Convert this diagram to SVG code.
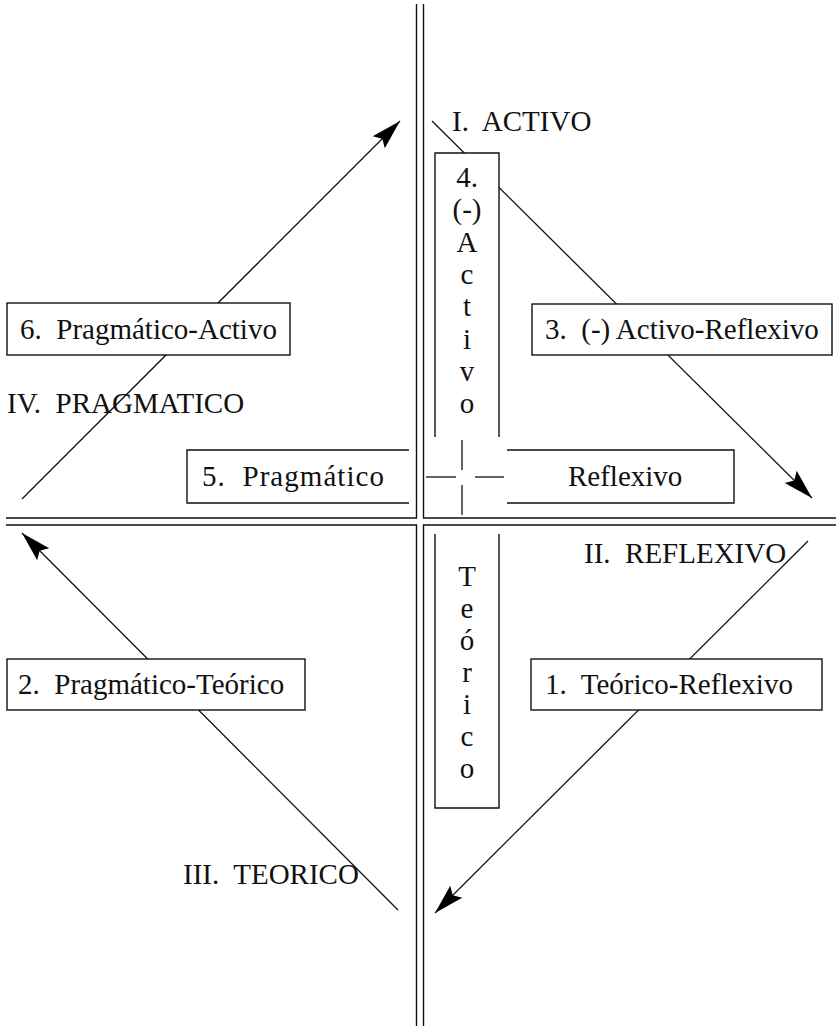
<svg xmlns="http://www.w3.org/2000/svg" width="836" height="1026" viewBox="0 0 836 1026">
<style>
  text { font-family: "Liberation Serif", "Times New Roman", serif; font-size: 29px; fill: #111; }
  .ax { fill: none; stroke: #111; stroke-width: 1.4; }
  .bx { fill: none; stroke: #111; stroke-width: 1.4; }
  .bg { fill: #fff; stroke: none; }
  .cn { fill: none; stroke: #111; stroke-width: 1.3; }
  .vt { text-anchor: middle; }
</style>
<defs>
  <marker id="ah" markerUnits="userSpaceOnUse" markerWidth="34" markerHeight="22" viewBox="-2 -11 34 22" refX="30" refY="0" orient="auto">
    <path d="M0,-8.5 L30,0 L0,8.5 L5,0 Z" fill="#000"/>
  </marker>
</defs>
<rect width="836" height="1026" fill="#fff"/>

<g id="axes">
  <polyline class="ax" points="416.5,4 416.5,518 6,518"/>
  <polyline class="ax" points="423.5,4 423.5,518 836,518"/>
  <polyline class="ax" points="6,525 416.5,525 416.5,1026"/>
  <polyline class="ax" points="836,525 423.5,525 423.5,1026"/>
</g>

<g id="connectors">
  <line class="cn" x1="22" y1="499" x2="400" y2="121" marker-end="url(#ah)"/>
  <line class="cn" x1="432" y1="121" x2="812" y2="498" marker-end="url(#ah)"/>
  <line class="cn" x1="808" y1="541" x2="435" y2="913" marker-end="url(#ah)"/>
  <line class="cn" x1="398" y1="910" x2="22" y2="533" marker-end="url(#ah)"/>
  <g id="center-cross">
    <line class="cn" x1="462" y1="440" x2="462" y2="470"/>
    <line class="cn" x1="462" y1="485" x2="462" y2="515"/>
    <line class="cn" x1="426" y1="477" x2="456" y2="477"/>
    <line class="cn" x1="475" y1="477" x2="504" y2="477"/>
  </g>
</g>

<g id="label-activo"><text x="452" y="131" xml:space="preserve">I.  ACTIVO</text></g>
<g id="label-pragmatico"><text x="7" y="413" xml:space="preserve">IV.  PRAGMATICO</text></g>
<g id="label-reflexivo"><text x="584" y="563" xml:space="preserve">II.  REFLEXIVO</text></g>
<g id="label-teorico"><text x="183" y="884" xml:space="preserve">III.  TEORICO</text></g>

<g id="node-6">
  <rect class="bg" x="7" y="303" width="283" height="52"/>
  <rect class="bx" x="7" y="303" width="283" height="52"/>
  <text x="20" y="339" xml:space="preserve">6.  Pragmático-Activo</text>
</g>

<g id="node-3">
  <rect class="bg" x="532" y="304" width="300" height="51"/>
  <rect class="bx" x="532" y="304" width="300" height="51"/>
  <text x="545" y="339" xml:space="preserve">3.  (-) Activo-Reflexivo</text>
</g>

<g id="node-4">
  <rect class="bg" x="435" y="153" width="64" height="284"/>
  <path class="bx" d="M435,437 L435,153 L499,153 L499,437"/>
  <text class="vt" x="467" y="187">4.</text>
  <text class="vt" x="467" y="219">(-)</text>
  <text class="vt" x="467" y="252">A</text>
  <text class="vt" x="467" y="284">c</text>
  <text class="vt" x="467" y="316">t</text>
  <text class="vt" x="467" y="349">i</text>
  <text class="vt" x="467" y="381">v</text>
  <text class="vt" x="467" y="413">o</text>
</g>

<g id="node-5">
  <rect class="bg" x="187" y="450" width="222" height="53"/>
  <path class="bx" d="M409,450 L187,450 L187,503 L409,503"/>
  <text x="202" y="486" xml:space="preserve" textLength="182" lengthAdjust="spacing">5.  Pragmático</text>
</g>

<g id="node-reflexivo">
  <rect class="bg" x="507" y="450" width="227" height="53"/>
  <path class="bx" d="M507,450 L734,450 L734,503 L507,503"/>
  <text x="568" y="486">Reflexivo</text>
</g>

<g id="node-teorico">
  <rect class="bg" x="435" y="534" width="64" height="274"/>
  <path class="bx" d="M435,534 L435,808 L499,808 L499,534"/>
  <text class="vt" x="467" y="586">T</text>
  <text class="vt" x="467" y="618">e</text>
  <text class="vt" x="467" y="650">ó</text>
  <text class="vt" x="467" y="682">r</text>
  <text class="vt" x="467" y="714">i</text>
  <text class="vt" x="467" y="746">c</text>
  <text class="vt" x="467" y="778">o</text>
</g>

<g id="node-2">
  <rect class="bg" x="7" y="659" width="298" height="51"/>
  <rect class="bx" x="7" y="659" width="298" height="51"/>
  <text x="18" y="694" xml:space="preserve">2.  Pragmático-Teórico</text>
</g>

<g id="node-1">
  <rect class="bg" x="531" y="659" width="291" height="51"/>
  <rect class="bx" x="531" y="659" width="291" height="51"/>
  <text x="545" y="694" xml:space="preserve">1.  Teórico-Reflexivo</text>
</g>
</svg>
